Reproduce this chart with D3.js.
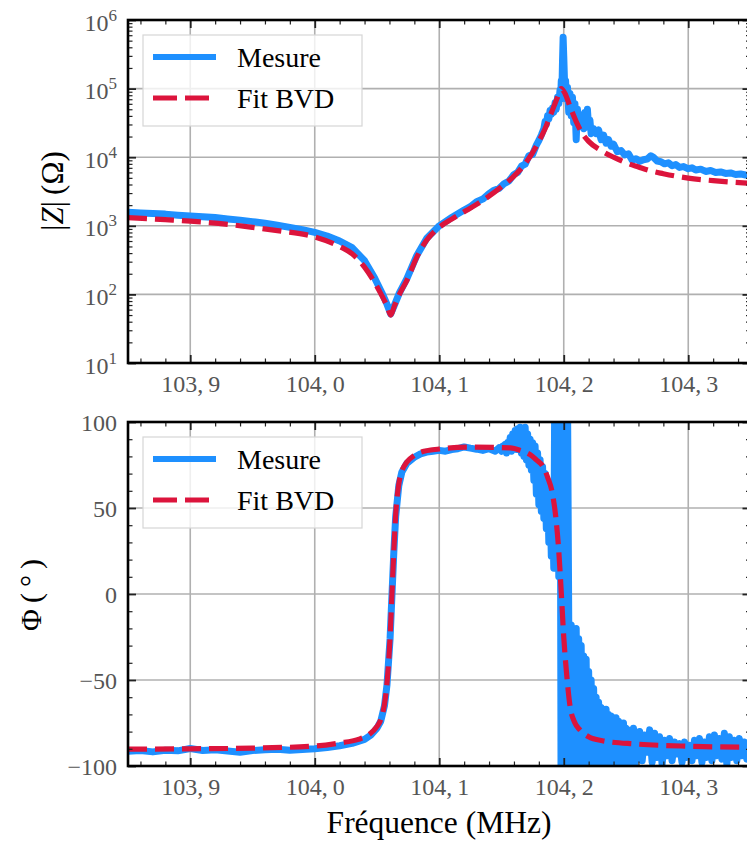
<!DOCTYPE html>
<html><head><meta charset="utf-8">
<script src="https://cdn.jsdelivr.net/npm/d3@7"></script>
<style>body{margin:0;background:#fff}</style>
</head><body><svg id="c" width="747" height="841"></svg>
<script>
// ---------- data ----------
const xDomain = [103.85, 104.35];
const xTicks = [103.9, 104.0, 104.1, 104.2, 104.3];
const xTickLabels = ["103,\u20099", "104,\u20090", "104,\u20091", "104,\u20092", "104,\u20093"];

const zTicks = [1e1, 1e2, 1e3, 1e4, 1e5, 1e6];
const zTickExp = ["1", "2", "3", "4", "5", "6"];
const pTicks = [-100, -50, 0, 50, 100];
const pTickLabels = ["\u2212100", "\u221250", "0", "50", "100"];

const legendLabels = ["Mesure", "Fit BVD"];

// |Z| measured (MHz, Ohm)
const zMesF = [103.85,103.86,103.87,103.88,103.89,103.90,103.91,103.92,103.93,103.94,103.95,103.96,103.97,103.98,103.99,104.00,104.01,104.02,104.03,104.04,104.048,104.054,104.058,104.061,104.064,104.068,104.074,104.082,104.09,104.10,104.11,104.12,104.125,104.13,104.135,104.14,104.144,104.148,104.152,104.156,104.16,104.163,104.166,104.169,104.172,104.175,104.178,104.18,104.182,104.184,104.185,104.186,104.187,104.188,104.189,104.19,104.191,104.192,104.193,104.194,104.195,104.196,104.197,104.1975,104.198,104.1985,104.199,104.1995,104.2,104.2005,104.201,104.2015,104.202,104.203,104.204,104.205,104.206,104.207,104.208,104.209,104.21,104.211,104.212,104.213,104.214,104.215,104.216,104.217,104.218,104.219,104.22,104.221,104.222,104.224,104.226,104.228,104.23,104.232,104.234,104.236,104.238,104.24,104.243,104.246,104.249,104.252,104.255,104.258,104.261,104.264,104.267,104.27,104.272,104.275,104.278,104.281,104.284,104.287,104.29,104.293,104.296,104.3,104.303,104.306,104.31,104.314,104.318,104.322,104.326,104.33,104.334,104.338,104.342,104.346,104.35];
const zMesV = [1580,1540,1510,1480,1430,1390,1360,1320,1260,1210,1150,1090,1020,950,880,800,710,600,480,310,175,105,72,52,70,105,170,370,660,1000,1320,1700,1900,2250,2450,2950,3300,3500,4100,4500,5600,6000,7400,7900,10500,11000,15000,17500,21000,26000,33000,30000,40000,36000,48000,42000,52000,45000,62000,50000,75000,60000,95000,70000,130000,90000,250000,560000,300000,150000,95000,130000,70000,105000,45000,85000,40000,75000,32000,60000,18000,50000,30000,42000,28000,38000,26000,45000,30000,50000,27000,35000,22000,26000,22000,25000,18000,21000,16000,18000,14500,15500,12000,12500,10800,11200,9000,9500,8700,9200,9400,10500,10000,8800,8600,8000,8300,7500,7800,7100,7300,6800,7000,6500,6700,6200,6400,6000,6100,5800,5900,5600,5700,5500,5400];

// |Z| fit (MHz, Ohm)
const zFitF = [103.85,103.88,103.90,103.93,103.95,103.97,104.00,104.02,104.03,104.04,104.048,104.054,104.058,104.061,104.064,104.068,104.074,104.082,104.09,104.10,104.11,104.12,104.13,104.14,104.15,104.16,104.17,104.18,104.185,104.19,104.195,104.198,104.201,104.205,104.21,104.215,104.22,104.23,104.24,104.25,104.26,104.27,104.28,104.29,104.30,104.32,104.35];
const zFitV = [1320,1230,1170,1050,950,850,690,500,390,250,150,95,68,50,68,100,160,350,620,950,1250,1600,2050,2700,3700,5300,8500,17000,26000,44000,75000,100000,85000,55000,33000,22000,17000,12500,10000,8300,7200,6300,5750,5300,4950,4550,4150];

// phase measured (MHz, deg)
const pMesF = [103.85,103.86,103.87,103.88,103.89,103.90,103.91,103.92,103.93,103.94,103.95,103.96,103.97,103.98,103.99,104.00,104.01,104.02,104.03,104.04,104.045,104.05,104.053,104.056,104.058,104.0605,104.062,104.0635,104.065,104.0675,104.07,104.074,104.08,104.085,104.09,104.095,104.10,104.105,104.11,104.115,104.12,104.125,104.13,104.135,104.14,104.145,104.148,
104.150,104.151,104.152,104.153,104.154,104.155,104.156,104.157,104.158,104.159,104.160,104.161,104.162,104.163,104.164,104.165,104.166,104.167,104.168,104.169,104.170,104.171,104.172,104.173,104.174,104.175,104.176,104.177,104.178,104.179,104.180,104.181,104.182,104.183,104.184,104.185,104.186,104.187,104.188,104.189,104.190,104.191,104.192,104.193,104.194,104.195,104.196,104.197,104.198,104.199,104.200,104.201,104.202,104.203,104.204,
104.205,104.206,104.207,104.208,104.209,104.210,104.211,104.212,104.213,104.214,104.215,104.216,104.217,104.218,104.219,104.220,104.221,104.222,104.223,104.224,104.225,104.226,104.227,104.228,104.229,104.230,104.231,104.232,104.233,104.234,104.235,104.236,104.237,104.238,104.239,104.240,104.241,104.242,104.243,104.244,104.245,104.246,104.247,104.248,104.249,104.250,104.251,104.252,104.253,104.254,104.255,104.256,104.257,104.258,104.259,
104.261,104.263,104.265,104.267,104.269,104.271,104.273,104.275,104.277,104.279,104.281,104.283,104.285,104.287,104.289,104.291,104.293,104.295,104.297,104.299,104.301,104.303,104.305,104.307,104.309,104.311,104.313,104.315,104.317,104.319,104.321,104.323,104.325,104.327,104.329,104.331,104.333,104.335,104.337,104.339,104.341,104.343,104.345,104.347,104.35];
const pMesV = [-91.5,-91,-91.8,-90.8,-91.2,-89.8,-91,-90.6,-91.3,-92,-91,-90.5,-90.2,-90.8,-90.4,-90,-89.2,-88.2,-86.8,-84.5,-82,-78,-74,-65,-53,-26,-1,24,45,63,71,76,79.5,81.5,82.5,83,83.5,83,84,84.5,85.5,84.8,84.2,83.5,84.5,83,85,
83,86,84,87,82,88,85,91,83,93,86,95,84,96,87,97,82,95,80,97,78,93,75,90,72,88,66,86,58,82,52,78,48,74,44,70,38,64,30,58,22,50,15,150,20,160,10,170,-170,160,-170,150,-100,120,-15,
-98,-18,-95,-22,-100,-20,-93,-26,-99,-30,-96,-36,-100,-38,-94,-45,-99,-50,-95,-55,-100,-60,-93,-63,-98,-66,-95,-68,-100,-67,-94,-70,-99,-71,-96,-73,-100,-72,-93,-74,-98,-76,-95,-75,-100,-78,-94,-79,-98,-80,-95,-78,-99,-81,-96,
-80,-97,-82,-92,-79,-98,-81,-95,-83,-99,-85,-94,-84,-97,-86,-93,-87,-98,-86,-95,-88,-97,-85,-94,-84,-98,-86,-95,-83,-97,-82,-94,-84,-96,-81,-99,-83,-95,-85,-97,-84,-94,-86,-96,-90];

// phase fit (MHz, deg)
const pFitF = [103.85,103.90,103.95,104.00,104.02,104.035,104.043,104.05,104.053,104.056,104.058,104.0605,104.062,104.0635,104.065,104.0675,104.07,104.074,104.08,104.085,104.10,104.124,104.157,104.165,104.173,104.178,104.183,104.187,104.191,104.194,104.196,104.198,104.20,104.2025,104.205,104.209,104.213,104.22,104.231,104.258,104.30,104.35];
const pFitV = [-90.2,-90,-89.6,-88.4,-86.6,-84.5,-82,-77,-73,-64,-52,-25,0,25,46,64,71.5,76.7,80.5,82.5,84.3,85.4,84.9,83.5,81,78,74.5,68,58,42,25,1,-25,-48,-65,-75,-79,-83,-85.3,-87.2,-88.5,-89.1];

// ---------- drawing ----------
const BLUE = "#1E90FF", RED = "#DC143C";
const FONT = "'Liberation Serif','Times New Roman',serif";
const X0 = 128, X1 = 750.5;
const svg = d3.select("#c").style("font-family", FONT);
const x = d3.scaleLinear().domain(xDomain).range([X0, X1]);
const xMinor = d3.range(103.86, 104.35, 0.02).filter(v => !xTicks.some(t => Math.abs(t - v) < 1e-6));

function panel(id, top, bottom, y, yMajor, yMinor, formatLabels, mes, fit) {
  const g = svg.append("g");
  g.append("clipPath").attr("id", "clip" + id).append("rect")
    .attr("x", X0).attr("y", top).attr("width", X1 - X0).attr("height", bottom - top);
  // grid
  g.append("g").selectAll("line").data(xTicks).join("line")
    .attr("x1", d => x(d)).attr("x2", d => x(d)).attr("y1", top).attr("y2", bottom)
    .attr("stroke", "#b0b0b0").attr("stroke-width", 1.6);
  g.append("g").selectAll("line").data(yMajor).join("line")
    .attr("y1", d => y(d)).attr("y2", d => y(d)).attr("x1", X0).attr("x2", X1)
    .attr("stroke", "#b0b0b0").attr("stroke-width", 1.6);
  // data
  const dg = g.append("g").attr("clip-path", `url(#clip${id})`);
  dg.append("path").datum(d3.zip(mes[0], mes[1]))
    .attr("fill", "none").attr("stroke", BLUE).attr("stroke-width", 7)
    .attr("stroke-linejoin", "round").attr("stroke-linecap", "round")
    .attr("d", d3.line().x(d => x(d[0])).y(d => y(d[1])));
  dg.append("path").datum(d3.zip(fit[0], fit[1]))
    .attr("fill", "none").attr("stroke", RED).attr("stroke-width", 5.2)
    .attr("stroke-dasharray", "19,8")
    .attr("d", d3.line().curve(d3.curveMonotoneX).x(d => x(d[0])).y(d => y(d[1])));
  // legend
  const lg = g.append("g").attr("transform", `translate(143,${top + 15})`);
  lg.append("rect").attr("width", 219).attr("height", 91)
    .attr("fill", "white").attr("fill-opacity", 0.8).attr("stroke", "#d6d6d6").attr("stroke-width", 1.2);
  lg.append("line").attr("x1", 10).attr("x2", 73).attr("y1", 22).attr("y2", 22)
    .attr("stroke", BLUE).attr("stroke-width", 6);
  lg.append("line").attr("x1", 10).attr("x2", 73).attr("y1", 63).attr("y2", 63)
    .attr("stroke", RED).attr("stroke-width", 5.2).attr("stroke-dasharray", "24,8");
  lg.selectAll("text").data(legendLabels).join("text")
    .attr("x", 94).attr("y", (d, i) => 32 + i * 41).attr("font-size", 28).attr("fill", "#000").text(d => d);
  // axes
  const styleAxis = (sel, w) => {
    sel.select(".domain").remove();
    sel.selectAll(".tick line").attr("stroke", "#222").attr("stroke-width", w);
    sel.attr("font-family", FONT);
  };
  const bx = g.append("g").attr("transform", `translate(0,${bottom})`)
    .call(d3.axisBottom(x).tickValues(xTicks).tickSize(-8).tickPadding(12).tickFormat((d, i) => xTickLabels[i]));
  styleAxis(bx, 1.8);
  bx.selectAll(".tick text").attr("font-size", 24).attr("fill", "#555");
  g.append("g").attr("transform", `translate(0,${bottom})`)
    .call(d3.axisBottom(x).tickValues(xMinor).tickSize(-4.5).tickFormat("")).call(s => styleAxis(s, 1.2));
  g.append("g").attr("transform", `translate(0,${top})`)
    .call(d3.axisTop(x).tickValues(xTicks).tickSize(-8).tickFormat("")).call(s => styleAxis(s, 1.8));
  g.append("g").attr("transform", `translate(0,${top})`)
    .call(d3.axisTop(x).tickValues(xMinor).tickSize(-4.5).tickFormat("")).call(s => styleAxis(s, 1.2));
  const ly = g.append("g").attr("transform", `translate(${X0},0)`)
    .call(d3.axisLeft(y).tickValues(yMajor).tickSize(-8).tickPadding(11).tickFormat(""));
  styleAxis(ly, 1.8);
  formatLabels(ly);
  g.append("g").attr("transform", `translate(${X0},0)`)
    .call(d3.axisLeft(y).tickValues(yMinor).tickSize(-4.5).tickFormat("")).call(s => styleAxis(s, 1.2));
  g.append("g").attr("transform", `translate(${X1},0)`)
    .call(d3.axisRight(y).tickValues(yMajor).tickSize(-8).tickFormat("")).call(s => styleAxis(s, 1.8));
  g.append("g").attr("transform", `translate(${X1},0)`)
    .call(d3.axisRight(y).tickValues(yMinor).tickSize(-4.5).tickFormat("")).call(s => styleAxis(s, 1.2));
  // spines
  g.append("rect").attr("x", X0).attr("y", top).attr("width", X1 - X0).attr("height", bottom - top)
    .attr("fill", "none").attr("stroke", "#000").attr("stroke-width", 2.6);
}

// top panel |Z|
const yZ = d3.scaleLog().domain([10, 1e6]).range([363, 20]);
const zMinor = [];
zTicks.slice(0, -1).forEach(t => { for (let k = 2; k <= 9; k++) zMinor.push(t * k); });
panel("Z", 20, 363, yZ, zTicks, zMinor, ax => {
  ax.selectAll(".tick text").each(function (d, i) {
    const t = d3.select(this).attr("font-size", 24).attr("fill", "#555").attr("dy", "0.42em").text(null);
    t.append("tspan").text("10");
    t.append("tspan").attr("dy", -10).attr("font-size", 17).text(zTickExp[i]);
  });
}, [zMesF, zMesV], [zFitF, zFitV]);

// bottom panel phase
const yP = d3.scaleLinear().domain([-100, 100]).range([766, 422]);
const pMinor = d3.range(-90, 100, 10).filter(v => v % 50 !== 0);
panel("P", 422, 766, yP, pTicks, pMinor, ax => {
  ax.selectAll(".tick text").attr("font-size", 24).attr("fill", "#555").attr("dy", "0.36em")
    .text((d, i) => pTickLabels[i]);
}, [pMesF, pMesV], [pFitF, pFitV]);

// axis labels
const zl = svg.append("text").attr("transform", "translate(63,191) rotate(-90)")
  .attr("text-anchor", "middle").attr("font-size", 31).attr("fill", "#000");
zl.append("tspan").text("|");
zl.append("tspan").attr("font-style", "italic").text("Z");
zl.append("tspan").text("|\u2009(\u03A9)");
svg.append("text").attr("transform", "translate(41,595) rotate(-90)")
  .attr("text-anchor", "middle").attr("font-size", 30).attr("fill", "#000").text("\u03A6\u2009(\u2009\u00B0\u2009)");
svg.append("text").attr("x", 439).attr("y", 833).attr("text-anchor", "middle")
  .attr("font-size", 31.5).attr("fill", "#000").text("Fréquence (MHz)");
</script></body></html>
